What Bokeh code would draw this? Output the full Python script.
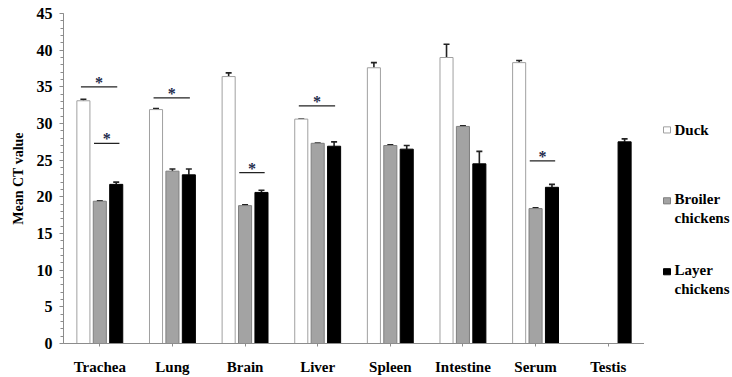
from bokeh.plotting import figure
from bokeh.models import Range1d, FactorRange, ColumnDataSource, Whisker, TeeHead, SingleIntervalTicker
from bokeh.layouts import row
from bokeh.embed import file_html
from bokeh.resources import INLINE
from bokeh.core.properties import value

# ---------------- data ----------------
organs = ["Trachea", "Lung", "Brain", "Liver", "Spleen", "Intestine", "Serum", "Testis"]
series = ["Duck", "Broiler chickens", "Layer chickens"]
duck = [33.1, 31.9, 36.4, 30.6, 37.6, 39.0, 38.3, None]
duck_err = [0.2, 0.15, 0.5, 0.0, 0.7, 1.8, 0.3, None]
broiler = [19.4, 23.5, 18.8, 27.3, 27.0, 29.6, 18.4, None]
broiler_err = [0.05, 0.3, 0.1, 0.05, 0.1, 0.1, 0.1, None]
layer = [21.7, 23.0, 20.6, 26.9, 26.5, 24.5, 21.3, 27.5]
layer_err = [0.3, 0.8, 0.3, 0.6, 0.5, 1.7, 0.4, 0.4]

sig_organ = ["Trachea", "Trachea", "Lung", "Brain", "Liver", "Serum"]
sig_from = ["Duck", "Broiler chickens", "Duck", "Broiler chickens", "Duck", "Broiler chickens"]
sig_y = [35.0, 27.3, 33.5, 23.3, 32.4, 24.9]

# ---------------- style ----------------
FONT = "'Liberation Serif', 'Times New Roman', serif"
OFFSETS = [-0.226, 0.0, 0.226]
BAR_W = 0.18
FILL = ["#ffffff", "#a3a3a3", "#000000"]
LINE = ["#a0a0a0", "#7f7f7f", "#000000"]
BRACKET_SPAN = {"Duck": (-0.26, 0.24), "Broiler chickens": (-0.08, 0.27)}
AXIS_COLOR = "#8c8c8c"
H = 377

p = figure(width=644, height=H, x_range=FactorRange(factors=organs, range_padding=0),
           y_range=Range1d(0, 45), output_backend="svg", toolbar_location=None,
           min_border_left=63, min_border_right=0, min_border_top=13, min_border_bottom=32)
p.outline_line_color = None
p.xgrid.visible = False
p.ygrid.visible = False

values = [duck, broiler, layer]
errs = [duck_err, broiler_err, layer_err]
for k, name in enumerate(series):
    xs, tops, ups = [], [], []
    for i, o in enumerate(organs):
        v = values[k][i]
        if v is None:
            continue
        xs.append(i + 0.5 + OFFSETS[k])
        tops.append(v)
        ups.append(v + errs[k][i])
    src = ColumnDataSource(dict(x=xs, top=tops, up=ups))
    p.vbar(x="x", top="top", bottom=0, width=BAR_W, source=src,
           fill_color=FILL[k], line_color=LINE[k], line_width=1)
    w = Whisker(base="x", lower="top", upper="up", source=src, dimension="height",
                line_color="#222222", line_width=1.6, lower_head=None,
                upper_head=TeeHead(size=6, line_color="#222222", line_width=1.6))
    p.add_layout(w)

# significance brackets
bx0, bx1, bxc = [], [], []
for o, f in zip(sig_organ, sig_from):
    c = organs.index(o) + 0.5
    a, b = BRACKET_SPAN[f]
    bx0.append(c + a)
    bx1.append(c + b)
    bxc.append(c + (a + b) / 2)
bsrc = ColumnDataSource(dict(x0=bx0, x1=bx1, xc=bxc, y=sig_y))
p.segment(x0="x0", y0="y", x1="x1", y1="y", source=bsrc, line_color="#222222", line_width=1.3)
p.text(x="xc", y="y", text=value("*"), source=bsrc, text_align="center",
       text_baseline="bottom", y_offset=4, text_font=value(FONT),
       text_font_style="bold", text_font_size="16px", text_color="#1f2d4d")

# axes
p.yaxis.ticker = SingleIntervalTicker(interval=5, num_minor_ticks=5)
p.yaxis.axis_label = "Mean CT value"
p.yaxis.axis_label_text_font = FONT
p.yaxis.axis_label_text_font_style = "bold"
p.yaxis.axis_label_text_font_size = "14px"
p.yaxis.axis_label_standoff = 8
p.yaxis.major_label_standoff = 7
p.yaxis.major_tick_out = 4
p.yaxis.major_tick_in = 0
p.yaxis.minor_tick_out = 3
p.yaxis.minor_tick_in = 0
for ax in (p.xaxis[0], p.yaxis[0]):
    ax.axis_line_color = AXIS_COLOR
    ax.major_tick_line_color = AXIS_COLOR
    ax.minor_tick_line_color = AXIS_COLOR
    ax.major_label_text_font = FONT
    ax.major_label_text_font_style = "bold"
    ax.major_label_text_color = "#000000"
    ax.axis_label_text_color = "#000000"
p.yaxis.major_label_text_font_size = "16px"
p.xaxis.major_label_text_font_size = "15px"
p.xaxis.major_tick_out = 3
p.xaxis.major_tick_in = 0
p.xaxis.major_label_standoff = 12

# legend panel
lg = figure(width=88, height=H, x_range=Range1d(0, 88), y_range=Range1d(H, 0),
            output_backend="svg", toolbar_location=None, min_border=0,
            x_axis_type=None, y_axis_type=None)
lg.outline_line_color = None
lg.xgrid.visible = False
lg.ygrid.visible = False
sq_y = [133, 214, 295]
tx_y = [133, 223, 304]
labels = ["Duck", "Broiler\nchickens", "Layer\nchickens"]
lg.rect(x=22.5, y=sq_y, width=7, height=7, fill_color=FILL, line_color=LINE)
lg.text(x=30, y=tx_y, text=labels, text_baseline="middle", text_align="left",
        text_font=value(FONT), text_font_style="bold", text_font_size="15px",
        text_line_height=1.2, text_color="#000000")

layout = row(p, lg)
open("out.html", "w").write(file_html(layout, INLINE))
